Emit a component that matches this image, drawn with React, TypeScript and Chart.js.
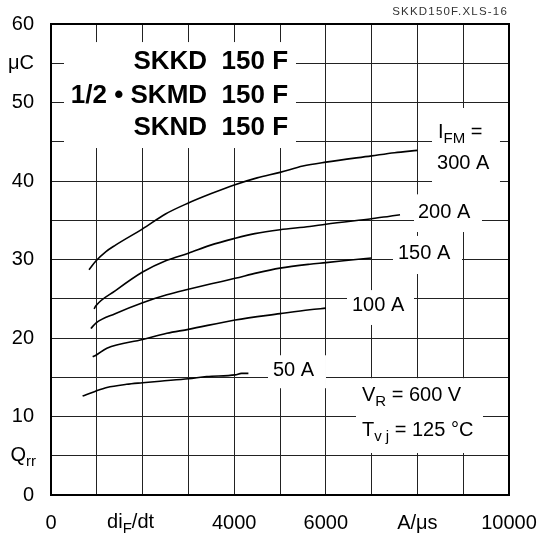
import React, { useEffect, useRef } from 'react';
import { Chart, registerables } from 'chart.js';

Chart.register(...registerables);

const FONT = '"Liberation Sans", Arial, Helvetica, sans-serif';
const FS = 20;

// Qrr (µC) versus di/dt (A/µs) curves, one per I_FM
const q300x = [830, 980, 1200, 1400, 2000, 2500, 3000, 3500, 4000, 4500, 5000, 5500, 6000, 7000, 7500, 8000];
const q300y = [28.7, 29.8, 31.0, 31.8, 33.9, 35.8, 37.2, 38.4, 39.5, 40.4, 41.1, 41.9, 42.4, 43.2, 43.6, 43.9];

const q200x = [940, 980, 1400, 2000, 2530, 3000, 3470, 4020, 4450, 5000, 5650, 6000, 7000, 7400, 7620];
const q200y = [23.7, 24.1, 26.0, 28.4, 29.9, 30.8, 31.8, 32.7, 33.3, 33.8, 34.2, 34.5, 35.2, 35.5, 35.7];

const q150x = [870, 980, 1400, 2000, 2530, 3000, 3500, 4020, 4500, 5000, 5650, 6000, 6820, 7000];
const q150y = [21.2, 21.9, 23.1, 24.5, 25.5, 26.2, 26.9, 27.6, 28.3, 28.9, 29.4, 29.6, 30.1, 30.2];

const q100x = [910, 980, 1220, 2000, 2530, 3000, 4020, 5000, 5650, 6000];
const q100y = [17.6, 17.8, 18.7, 19.8, 20.6, 21.1, 22.3, 23.1, 23.6, 23.8];

const q50x = [690, 960, 1220, 1650, 2000, 2380, 3000, 3400, 4020, 4160, 4310];
const q50y = [12.6, 13.2, 13.7, 14.1, 14.3, 14.5, 14.8, 15.1, 15.3, 15.5, 15.5];

// tick labels
const xTickValues = [0, 4000, 6000, 8000, 10000];
const xTickTexts = ['0', '4000', '6000', 'A/μs', '10000'];
const yTickValues = [0, 10, 20, 30, 40, 50, 55, 60];
const yTickTexts = ['0', '10', '20', '30', '40', '50', 'μC', '60'];

const titleLines = ['SKKD  150 F', '1/2 • SKMD  150 F', 'SKND  150 F'];
const titleLineY = [55.2, 50.8, 46.8];

type Part = { t: string; sub?: boolean };

const annoBoxes: number[][] = [
  [284, 57.7, 5349, 44.2],
  [8319, 49.3, 9803, 38.2],
  [7926, 38.3, 9410, 33.5],
  [7467, 33.0, 8974, 28.15],
  [6463, 26.1, 7926, 21.66],
  [4738, 17.8, 6004, 13.6],
  [6659, 14.88, 9432, 5.35],
];

const annoTexts: { x: number; y: number; parts: Part[] }[] = [
  { x: 8450, y: 46.2, parts: [{ t: 'I' }, { t: 'FM', sub: true }, { t: ' =' }] },
  { x: 8428, y: 42.2, parts: [{ t: '300 A' }] },
  { x: 8013, y: 36.05, parts: [{ t: '200 A' }] },
  { x: 7576, y: 30.8, parts: [{ t: '150 A' }] },
  { x: 6572, y: 24.2, parts: [{ t: '100 A' }] },
  { x: 4847, y: 15.9, parts: [{ t: '50 A' }] },
  { x: 6790, y: 12.74, parts: [{ t: 'V' }, { t: 'R', sub: true }, { t: ' = 600 V' }] },
  { x: 6790, y: 8.28, parts: [{ t: 'T' }, { t: 'v j', sub: true }, { t: ' = 125 °C' }] },
];

function drawRich(
  ctx: CanvasRenderingContext2D,
  parts: Part[],
  x: number,
  y: number,
  size: number,
  subSize: number,
  align: 'left' | 'right' | 'center'
) {
  const fontMain = `${size}px ${FONT}`;
  const fontSub = `${subSize}px ${FONT}`;
  const widths = parts.map((p) => {
    ctx.font = p.sub ? fontSub : fontMain;
    return ctx.measureText(p.t).width;
  });
  const total = widths.reduce((a, b) => a + b, 0);
  let cx = align === 'left' ? x : align === 'right' ? x - total : x - total / 2;
  ctx.textAlign = 'left';
  ctx.textBaseline = 'middle';
  parts.forEach((p, i) => {
    ctx.font = p.sub ? fontSub : fontMain;
    ctx.fillText(p.t, cx, p.sub ? y + size * 0.32 : y);
    cx += widths[i];
  });
}

const annotationPlugin = {
  id: 'annotations',
  beforeDatasetsDraw(chart: any) {
    const { ctx } = chart;
    const xs = chart.scales.x;
    const ys = chart.scales.y;
    ctx.save();
    ctx.fillStyle = '#ffffff';
    annoBoxes.forEach(([x1, y1, x2, y2]) => {
      const px1 = xs.getPixelForValue(x1);
      const px2 = xs.getPixelForValue(x2);
      const py1 = ys.getPixelForValue(y1);
      const py2 = ys.getPixelForValue(y2);
      ctx.fillRect(px1, py1, px2 - px1, py2 - py1);
    });
    ctx.restore();
  },
  afterDatasetsDraw(chart: any) {
    const { ctx, chartArea } = chart;
    const xs = chart.scales.x;
    const ys = chart.scales.y;
    ctx.save();
    // frame
    ctx.strokeStyle = '#000';
    ctx.lineWidth = 2;
    ctx.strokeRect(chartArea.left, chartArea.top, chartArea.right - chartArea.left, chartArea.bottom - chartArea.top);

    ctx.fillStyle = '#000';
    // title
    ctx.font = `bold 26px ${FONT}`;
    ctx.textAlign = 'right';
    ctx.textBaseline = 'middle';
    titleLines.forEach((line, i) => {
      ctx.fillText(line, xs.getPixelForValue(5175), ys.getPixelForValue(titleLineY[i]));
    });
    // annotations
    annoTexts.forEach((a) => {
      drawRich(ctx, a.parts, xs.getPixelForValue(a.x), ys.getPixelForValue(a.y), FS, 15, 'left');
    });
    // axis quantity labels
    drawRich(ctx, [{ t: 'Q' }, { t: 'rr', sub: true }], chartArea.left - 15, ys.getPixelForValue(5), FS, 15, 'right');
    drawRich(ctx, [{ t: 'di' }, { t: 'F', sub: true }, { t: '/dt' }], xs.getPixelForValue(2000) - 12, chartArea.bottom + 27, FS, 15, 'center');
    // file id
    ctx.font = `11.5px ${FONT}`;
    (ctx as any).letterSpacing = '1.2px';
    ctx.fillStyle = '#333';
    ctx.textAlign = 'right';
    ctx.textBaseline = 'middle';
    ctx.fillText('SKKD150F.XLS-16', chartArea.right - 1, chartArea.top - 12);
    ctx.restore();
  },
};

export default function App() {
  const canvasRef = useRef<HTMLCanvasElement | null>(null);

  useEffect(() => {
    const canvas = canvasRef.current;
    if (!canvas) return;
    const series = [
      [q300x, q300y],
      [q200x, q200y],
      [q150x, q150y],
      [q100x, q100y],
      [q50x, q50y],
    ];
    const chart = new Chart(canvas, {
      type: 'line',
      data: {
        datasets: series.map(([xs, ys]) => ({
          data: xs.map((x, i) => ({ x, y: ys[i] })),
          borderColor: '#000',
          borderWidth: 1.6,
          pointRadius: 0,
          fill: false,
          cubicInterpolationMode: 'monotone' as const,
        })),
      },
      options: {
        responsive: false,
        animation: false,
        events: [],
        layout: { padding: { top: 24, right: 31, left: 0, bottom: 0 } },
        plugins: { legend: { display: false }, tooltip: { enabled: false }, title: { display: false } },
        scales: {
          x: {
            type: 'linear',
            min: 0,
            max: 10000,
            afterFit: (s: any) => {
              s.height = 47;
              s.paddingLeft = 0;
              s.paddingRight = 0;
            },
            grid: { color: '#222', lineWidth: 1, drawTicks: false },
            border: { display: true, color: '#000', width: 2 },
            ticks: {
              stepSize: 1000,
              autoSkip: false,
              maxRotation: 0,
              padding: 16,
              color: '#000',
              font: { family: FONT, size: FS },
              callback: (v: any) => {
                const i = xTickValues.indexOf(Number(v));
                return i >= 0 ? xTickTexts[i] : '';
              },
            },
          },
          y: {
            type: 'linear',
            min: 0,
            max: 60,
            afterFit: (s: any) => {
              s.width = 51;
              s.paddingTop = 0;
              s.paddingBottom = 0;
            },
            grid: { color: '#222', lineWidth: 1, drawTicks: false },
            border: { display: true, color: '#000', width: 2 },
            ticks: {
              stepSize: 5,
              autoSkip: false,
              padding: 17,
              color: '#000',
              font: { family: FONT, size: FS },
              callback: (v: any) => {
                const i = yTickValues.indexOf(Number(v));
                return i >= 0 ? yTickTexts[i] : '';
              },
            },
          },
        },
      },
      plugins: [annotationPlugin],
    });
    return () => chart.destroy();
  }, []);

  return (
    <div style={{ position: 'absolute', left: 0, top: 0, width: 540, height: 542, background: '#fff' }}>
      <canvas ref={canvasRef} width={540} height={542} />
    </div>
  );
}
